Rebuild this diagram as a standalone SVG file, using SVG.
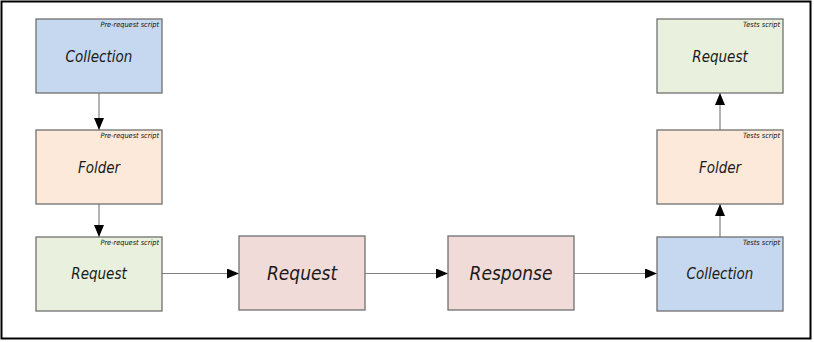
<svg xmlns="http://www.w3.org/2000/svg" width="814" height="342" viewBox="0 0 814 342">
<style>
.box{stroke:#707070;stroke-width:1.3}
.blue{fill:#c6d8ef}
.peach{fill:#fce9da}
.green{fill:#e9f0dd}
.pink{fill:#f1dbd9}
.lbl{font-family:"DejaVu Sans Condensed","DejaVu Sans",sans-serif;font-style:italic;font-size:15px;fill:#1a1a1a;text-anchor:middle}
.big{font-size:19px}
.tag{font-family:"DejaVu Sans Condensed","DejaVu Sans",sans-serif;font-style:italic;font-size:7.3px;fill:#111;text-anchor:end}
.conn{stroke:#808080;stroke-width:1.2;fill:none}
</style>
<defs>
<marker id="ah" viewBox="0 0 12 10" refX="12" refY="5" markerWidth="12" markerHeight="10" markerUnits="userSpaceOnUse" orient="auto">
<path d="M0,0 L12,5 L0,10 Z" fill="#000"/>
</marker>
</defs>
<rect x="1.5" y="1.5" width="809" height="337" fill="#fff" stroke="#000" stroke-width="2"/>
<g id="connectors">
<line class="conn" x1="99" y1="93" x2="99" y2="130" marker-end="url(#ah)"/>
<line class="conn" x1="99" y1="204" x2="99" y2="237" marker-end="url(#ah)"/>
<line class="conn" x1="162" y1="273.5" x2="239" y2="273.5" marker-end="url(#ah)"/>
<line class="conn" x1="365" y1="273.5" x2="448" y2="273.5" marker-end="url(#ah)"/>
<line class="conn" x1="574" y1="273.5" x2="657" y2="273.5" marker-end="url(#ah)"/>
<line class="conn" x1="720" y1="237" x2="720" y2="204" marker-end="url(#ah)"/>
<line class="conn" x1="720" y1="130" x2="720" y2="93" marker-end="url(#ah)"/>
</g>
<g id="collection-pre">
<rect class="box blue" x="36" y="19" width="126" height="74"/>
<text class="tag" x="159" y="27">Pre-request script</text>
<text class="lbl" x="99" y="62">Collection</text>
</g>
<g id="folder-pre">
<rect class="box peach" x="36" y="130" width="126" height="74"/>
<text class="tag" x="159" y="138">Pre-request script</text>
<text class="lbl" x="99" y="173">Folder</text>
</g>
<g id="request-pre">
<rect class="box green" x="36" y="237" width="126" height="74"/>
<text class="tag" x="159" y="245">Pre-request script</text>
<text class="lbl" x="99" y="279">Request</text>
</g>
<g id="request">
<rect class="box pink" x="239" y="236" width="126" height="74"/>
<text class="lbl big" x="302" y="280">Request</text>
</g>
<g id="response">
<rect class="box pink" x="448" y="236" width="126" height="74"/>
<text class="lbl big" x="511" y="280">Response</text>
</g>
<g id="collection-tests">
<rect class="box blue" x="657" y="237" width="126" height="74"/>
<text class="tag" x="780" y="245">Tests script</text>
<text class="lbl" x="720" y="279">Collection</text>
</g>
<g id="folder-tests">
<rect class="box peach" x="657" y="130" width="126" height="74"/>
<text class="tag" x="780" y="138">Tests script</text>
<text class="lbl" x="720" y="173">Folder</text>
</g>
<g id="request-tests">
<rect class="box green" x="657" y="19" width="126" height="74"/>
<text class="tag" x="780" y="27">Tests script</text>
<text class="lbl" x="720" y="62">Request</text>
</g>
</svg>
